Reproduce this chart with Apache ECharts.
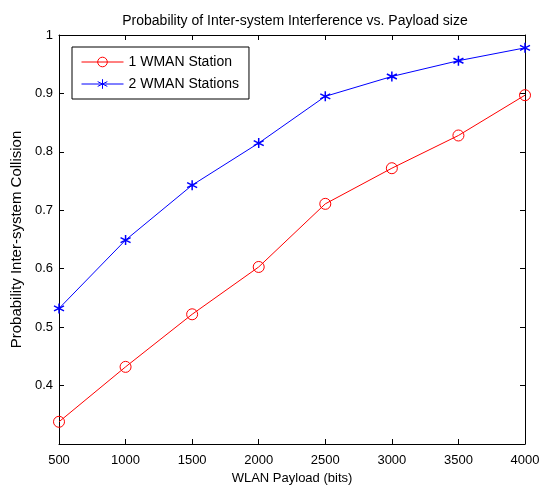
<!DOCTYPE html>
<html>
<head>
<meta charset="utf-8">
<script src="https://cdn.jsdelivr.net/npm/echarts@6/dist/echarts.min.js"></script>
<style>html,body{margin:0;padding:0;background:#fff}#c{width:547px;height:490px}</style>
</head>
<body>
<div id="c"></div>
<script>
var payload = [500, 1000, 1500, 2000, 2500, 3000, 3500, 4000];
var oneStation = [0.338, 0.432, 0.522, 0.603, 0.711, 0.772, 0.828, 0.897];
var twoStations = [0.532, 0.649, 0.743, 0.815, 0.895, 0.929, 0.956, 0.978];
var seriesNames = ['1 WMAN Station', '2 WMAN Stations'];
var titleText = 'Probability of Inter-system Interference vs. Payload size';
var xName = 'WLAN Payload (bits)';
var yName = 'Probability Inter-system Collision';

function pairs(xs, ys) { return xs.map(function (x, i) { return [x, ys[i]]; }); }

var font = 'Liberation Sans, Arial, sans-serif';
var asterisk = 'path://M0,-5L0,5M-4.33,-2.5L4.33,2.5M-4.33,2.5L4.33,-2.5';

var baseX = {
  type: 'value', min: 500, max: 4000, interval: 500,
  axisLine: { show: true, lineStyle: { color: '#000', width: 1 } },
  axisTick: { show: true, inside: true, length: 5, lineStyle: { color: '#000' } },
  splitLine: { show: false }
};
var baseY = {
  type: 'value', min: 0.3, max: 1, interval: 0.1,
  axisLine: { show: true, lineStyle: { color: '#000', width: 1 } },
  axisTick: { show: true, inside: true, length: 5, lineStyle: { color: '#000' } },
  splitLine: { show: false }
};

var chart = echarts.init(document.getElementById('c'), null, { renderer: 'canvas' });
chart.setOption({
  animation: false,
  backgroundColor: '#fff',
  title: {
    text: titleText, left: 290, top: 9, textAlign: 'center',
    textStyle: { fontFamily: font, fontSize: 14, fontWeight: 'normal', color: '#000' }
  },
  grid: { left: 59, right: 22, top: 35, bottom: 42 },
  legend: {
    orient: 'vertical', left: 72, top: 47,
    data: seriesNames,
    itemWidth: 42, itemHeight: 12, itemGap: 8,
    padding: [8, 10, 8, 9],
    borderColor: '#000', borderWidth: 1, backgroundColor: '#fff',
    lineStyle: { width: 1 },
    itemStyle: { borderWidth: 1 },
    textStyle: { fontFamily: font, fontSize: 14, color: '#000' }
  },
  xAxis: [
    Object.assign({}, baseX, {
      position: 'bottom',
      name: xName, nameLocation: 'middle', nameGap: 28,
      nameTextStyle: { fontFamily: font, fontSize: 13, color: '#000' },
      axisLabel: { show: true, margin: 10, fontFamily: font, fontSize: 13, color: '#000',
        formatter: function (v) { return String(v); } }
    }),
    Object.assign({}, baseX, { position: 'top', axisLabel: { show: false } })
  ],
  yAxis: [
    Object.assign({}, baseY, {
      position: 'left',
      name: yName, nameLocation: 'middle', nameGap: 26,
      nameTextStyle: { fontFamily: font, fontSize: 15, color: '#000' },
      axisLabel: { show: true, margin: 6, showMinLabel: false, fontFamily: font, fontSize: 13, color: '#000',
        formatter: function (v) { return Math.round(v * 10) === 10 ? '1' : v.toFixed(1); } }
    }),
    Object.assign({}, baseY, { position: 'right', axisLabel: { show: false } })
  ],
  series: [
    {
      name: seriesNames[0], type: 'line', data: pairs(payload, oneStation),
      xAxisIndex: 0, yAxisIndex: 0,
      symbol: 'circle', symbolSize: 11, showAllSymbol: true,
      lineStyle: { color: '#ff0000', width: 1 },
      itemStyle: { color: 'rgba(255,255,255,0)', borderColor: '#ff0000', borderWidth: 1 }
    },
    {
      name: seriesNames[1], type: 'line', data: pairs(payload, twoStations),
      xAxisIndex: 0, yAxisIndex: 0,
      symbol: asterisk, symbolSize: 10, showAllSymbol: true,
      lineStyle: { color: '#0000ff', width: 1 },
      itemStyle: { color: 'rgba(0,0,0,0)', borderColor: '#0000ff', borderWidth: 1.5 }
    }
  ]
});
</script>
</body>
</html>
